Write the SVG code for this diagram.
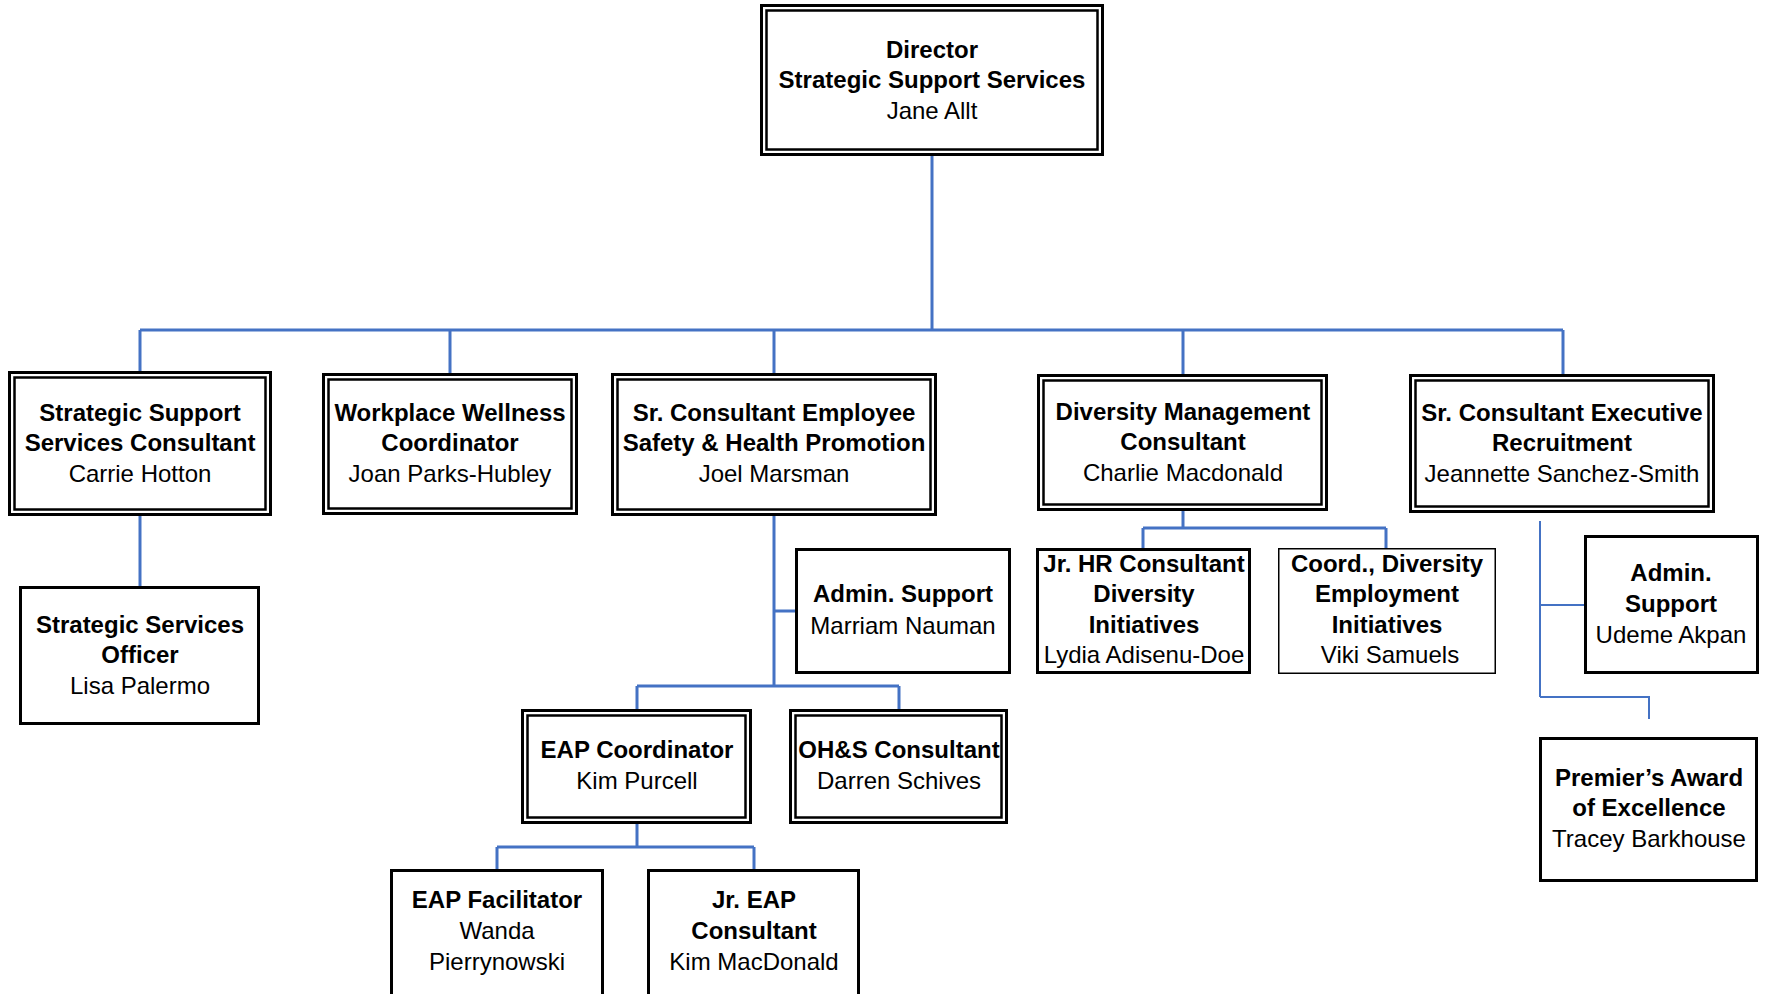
<svg xmlns="http://www.w3.org/2000/svg" width="1768" height="994" viewBox="0 0 1768 994">
<style>
.o{fill:#fff;stroke:#000;stroke-width:3}
.i{fill:none;stroke:#000;stroke-width:2.5}
.s{fill:#fff;stroke:#000;stroke-width:3}
.t{fill:#fff;stroke:#000;stroke-width:1.5}
text{font-family:"Liberation Sans",Arial,sans-serif;font-size:24px;fill:#000;text-anchor:middle}
.b{font-weight:bold}
.c{fill:none;stroke:#4472C4;stroke-width:3}
.ct{fill:none;stroke:#4472C4;stroke-width:2}
</style>
<rect width="1768" height="994" fill="#fff"/>
<g id="connectors">
<path class="c" d="M932 156V330M140 330H1563M140 330V371M450 330V373M774 330V373M1183 330V374M1563 330V374"/>
<path class="c" d="M140 516V586"/>
<path class="c" d="M774 516V686M774 611H795M637 686H899M637 686V709M899 686V709"/>
<path class="c" d="M637 824V847M497 847H754M497 847V869M754 847V869"/>
<path class="c" d="M1183 511V528M1143 528H1386M1143 528V548M1386 528V548"/>
<path class="ct" d="M1540 521V697M1540 605H1584M1540 697H1649V719"/>
</g>
<g id="director">
<rect class="o" x="761.5" y="5.5" width="341" height="149"/>
<rect class="i" x="766.5" y="10.5" width="331" height="139"/>
<text class="b" x="932" y="58">Director</text>
<text class="b" x="932" y="88">Strategic Support Services</text>
<text x="932" y="119">Jane Allt</text>
</g>
<g id="ssc">
<rect class="o" x="9.5" y="372.5" width="261" height="142"/>
<rect class="i" x="14.5" y="377.5" width="251" height="132"/>
<text class="b" x="140" y="421">Strategic Support</text>
<text class="b" x="140" y="451">Services Consultant</text>
<text x="140" y="482">Carrie Hotton</text>
</g>
<g id="wellness">
<rect class="o" x="323.5" y="374.5" width="253" height="139"/>
<rect class="i" x="328.5" y="379.5" width="243" height="129"/>
<text class="b" x="450" y="421">Workplace Wellness</text>
<text class="b" x="450" y="451">Coordinator</text>
<text x="450" y="482">Joan Parks-Hubley</text>
</g>
<g id="safety">
<rect class="o" x="612.5" y="374.5" width="323" height="140"/>
<rect class="i" x="617.5" y="379.5" width="313" height="130"/>
<text class="b" x="774" y="421">Sr. Consultant Employee</text>
<text class="b" x="774" y="451">Safety &amp; Health Promotion</text>
<text x="774" y="482">Joel Marsman</text>
</g>
<g id="diversity">
<rect class="o" x="1038.5" y="375.5" width="288" height="134"/>
<rect class="i" x="1043.5" y="380.5" width="278" height="124"/>
<text class="b" x="1183" y="420">Diversity Management</text>
<text class="b" x="1183" y="450">Consultant</text>
<text x="1183" y="481">Charlie Macdonald</text>
</g>
<g id="recruitment">
<rect class="o" x="1410.5" y="375.5" width="303" height="136"/>
<rect class="i" x="1415.5" y="380.5" width="293" height="126"/>
<text class="b" x="1562" y="421">Sr. Consultant Executive</text>
<text class="b" x="1562" y="451">Recruitment</text>
<text x="1562" y="482">Jeannette Sanchez-Smith</text>
</g>
<g id="officer">
<rect class="s" x="20.5" y="587.5" width="238" height="136"/>
<text class="b" x="140" y="633">Strategic Services</text>
<text class="b" x="140" y="663">Officer</text>
<text x="140" y="694">Lisa Palermo</text>
</g>
<g id="admin1">
<rect class="s" x="796.5" y="549.5" width="213" height="123"/>
<text class="b" x="903" y="602">Admin. Support</text>
<text x="903" y="634">Marriam Nauman</text>
</g>
<g id="eapcoord">
<rect class="o" x="522.5" y="710.5" width="228" height="112"/>
<rect class="i" x="527.5" y="715.5" width="218" height="102"/>
<text class="b" x="637" y="758">EAP Coordinator</text>
<text x="637" y="789">Kim Purcell</text>
</g>
<g id="ohs">
<rect class="o" x="790.5" y="710.5" width="216" height="112"/>
<rect class="i" x="795.5" y="715.5" width="206" height="102"/>
<text class="b" x="899" y="758">OH&amp;S Consultant</text>
<text x="899" y="789">Darren Schives</text>
</g>
<g id="eapfac">
<rect class="s" x="391.5" y="870.5" width="211" height="140"/>
<text class="b" x="497" y="908">EAP Facilitator</text>
<text x="497" y="939">Wanda</text>
<text x="497" y="970">Pierrynowski</text>
</g>
<g id="jreap">
<rect class="s" x="648.5" y="870.5" width="210" height="140"/>
<text class="b" x="754" y="908">Jr. EAP</text>
<text class="b" x="754" y="939">Consultant</text>
<text x="754" y="970">Kim MacDonald</text>
</g>
<g id="jrhr">
<rect class="s" x="1037.5" y="549.5" width="212" height="123"/>
<text class="b" x="1144" y="572">Jr. HR Consultant</text>
<text class="b" x="1144" y="602">Diversity</text>
<text class="b" x="1144" y="633">Initiatives</text>
<text x="1144" y="663">Lydia Adisenu-Doe</text>
</g>
<g id="coorddiv">
<rect class="t" x="1278.75" y="548.75" width="216.5" height="124.5"/>
<text class="b" x="1387" y="572">Coord., Diversity</text>
<text class="b" x="1387" y="602">Employment</text>
<text class="b" x="1387" y="633">Initiatives</text>
<text x="1390" y="663">Viki Samuels</text>
</g>
<g id="admin2">
<rect class="s" x="1585.5" y="536.5" width="172" height="136"/>
<text class="b" x="1671" y="581">Admin.</text>
<text class="b" x="1671" y="612">Support</text>
<text x="1671" y="643">Udeme Akpan</text>
</g>
<g id="premier">
<rect class="s" x="1540.5" y="738.5" width="216" height="142"/>
<text class="b" x="1649" y="786">Premier’s Award</text>
<text class="b" x="1649" y="816">of Excellence</text>
<text x="1649" y="847">Tracey Barkhouse</text>
</g>
</svg>
